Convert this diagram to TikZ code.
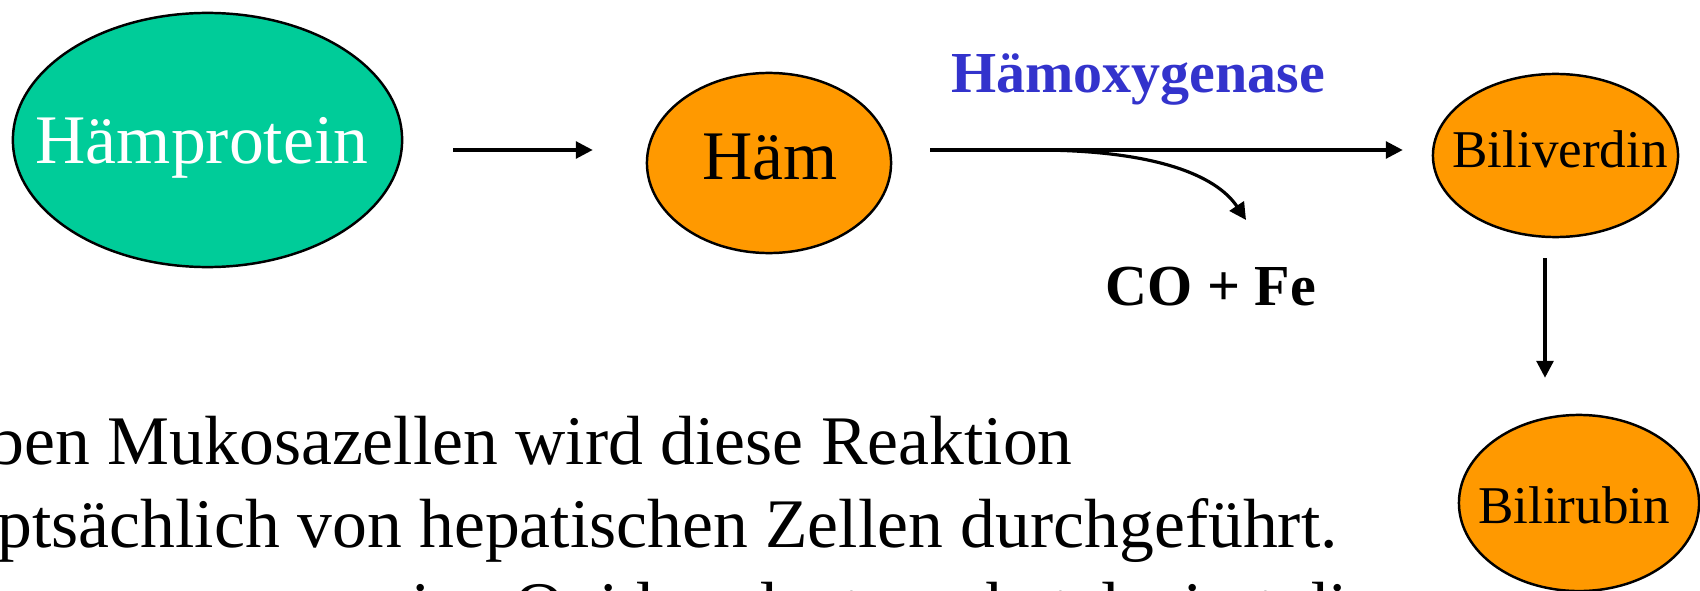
\documentclass[tikz,border=0pt]{standalone}
\usepackage{fontspec}
\setmainfont{Liberation Serif}
\usetikzlibrary{shapes.geometric,arrows.meta}
\definecolor{protgreen}{HTML}{00CC99}
\definecolor{haemorange}{HTML}{FF9900}
\definecolor{enzblue}{HTML}{3333CC}

\begin{document}
\begin{tikzpicture}[x=0.01cm, y=-0.01cm,
        blob/.style={ellipse, draw, line width=0.7pt, inner sep=0pt},
        big/.style={font=\fontsize{19.8}{24}\selectfont, inner sep=0pt, anchor=base},
        small/.style={font=\fontsize{15.1}{18}\selectfont, inner sep=0pt, anchor=base},
        tag/.style={font=\fontsize{16.5}{20}\selectfont\bfseries, inner sep=0pt, anchor=base},
        line/.style={font=\fontsize{19.8}{24}\selectfont, inner sep=0pt, anchor=base west},
        arr/.style={line width=0.9pt, -{Triangle[length=4.8pt,width=4.8pt]}}]
        \path [use as bounding box, clip] (0,0) rectangle (1700,591);

        % the four stages
        \node [blob, fill=protgreen, minimum width=3.89cm, minimum height=2.54cm] (hp) at (207.5,140) {};
        \node [blob, fill=haemorange, minimum width=2.44cm, minimum height=1.80cm] (haem) at (769,163) {};
        \node [blob, fill=haemorange, minimum width=2.45cm, minimum height=1.63cm] (bv) at (1555.5,155.5) {};
        \node [blob, fill=haemorange, minimum width=2.40cm, minimum height=1.76cm] (br) at (1579,503) {};
        \node [big, text=white] (hptext) at (202,163) {Hämprotein};
        \node [big] (haemtext) at (770,180) {Häm};
        \node [small] (bvtext) at (1560,168) {Biliverdin};
        \node [small] (brtext) at (1574,523) {Bilirubin};

        \node [tag, text=enzblue] (enz) at (1138,93) {Hämoxygenase};
        \node [tag] (co) at (1211,305) {CO + Fe};

        \draw [arr] ([shift={(50,10)}]hp.east) -- ([shift={(-53,-13)}]haem.west);
        \draw [arr] ([shift={(38,-13)}]haem.east) -- ([shift={(-29,-5.5)}]bv.west);
        \coordinate (split) at ([shift={(142,-13)}]haem.east);
        \draw [arr] (split) .. controls +(120,0) and +(-30,-45) .. ([shift={(35,-85)}]co.base);
        \draw [arr] ([shift={(-10.5,20)}]bv.south) -- ([shift={(-34,-36)}]br.north);

        % text underneath, cut off at the left and bottom
        \node [line] (l1) at (-11,464) {ben Mukosazellen wird diese Reaktion};
        \node [line] (l2) at (-3,547) {ptsächlich von hepatischen Zellen durchgeführt.};
        \node [line] (l3) at (380,630) {eine Oxidoreductase, katalysiert die};
\end{tikzpicture}
\end{document}
